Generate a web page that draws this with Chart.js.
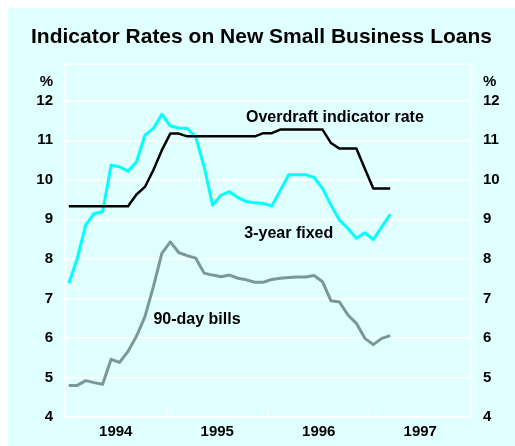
<!DOCTYPE html>
<html>
<head>
<meta charset="utf-8">
<script src="https://cdn.jsdelivr.net/npm/chart.js@4.4.0/dist/chart.umd.min.js"></script>
<style>
  body { margin: 8px 0 0 8px; background: #fff; overflow: hidden; }
  #wrap { width: 507px; height: 438px; background: #e0ffff; }
</style>
</head>
<body>
<div id="wrap"><canvas id="myChart"></canvas></div>
<script>
// monthly, Jan 1994 - Mar 1997
const years = ['1994', '1995', '1996', '1997'];
const yTicks = [4, 5, 6, 7, 8, 9, 10, 11, 12];

const overdraft = [
    9.33, 9.33, 9.33, 9.33, 9.33, 9.33, 9.33, 9.33, 9.63, 9.82, 10.25, 10.75,
    11.17, 11.17, 11.1, 11.1, 11.1, 11.1, 11.1, 11.1, 11.1, 11.1, 11.1, 11.18,
    11.18, 11.27, 11.27, 11.27, 11.27, 11.27, 11.27, 10.93, 10.79, 10.79, 10.79, 10.28,
    9.78, 9.78, 9.78
];
const fixed3yr = [
    7.38, 8.01, 8.86, 9.15, 9.19, 10.37, 10.33, 10.22, 10.45, 11.13, 11.3, 11.66,
    11.36, 11.31, 11.3, 11.09, 10.33, 9.36, 9.61, 9.7, 9.55, 9.45, 9.42, 9.4,
    9.34, 9.73, 10.13, 10.13, 10.13, 10.06, 9.78, 9.36, 8.98, 8.77, 8.52, 8.66,
    8.49, 8.81, 9.13
];
const bills90 = [
    4.8, 4.8, 4.92, 4.87, 4.83, 5.46, 5.38, 5.66, 6.04, 6.54, 7.3, 8.14,
    8.43, 8.16, 8.08, 8.02, 7.64, 7.59, 7.55, 7.59, 7.51, 7.47, 7.41, 7.41,
    7.48, 7.51, 7.53, 7.54, 7.54, 7.58, 7.42, 6.94, 6.91, 6.58, 6.37, 5.99,
    5.83, 5.99, 6.06
];

const toPoints = arr => arr.map((v, i) => ({x: i + 0.45, y: v}));

const FONT = '"Liberation Sans", Arial, sans-serif';

// frame, inner year ticks, % signs and line labels
const decor = {
    id: 'decor',
    beforeDatasetsDraw(chart) {
        const {ctx, chartArea: a, scales: {x, y}} = chart;
        ctx.save();
        ctx.strokeStyle = '#ffffff';
        ctx.lineWidth = 1.5;
        ctx.strokeRect(a.left, a.top, a.right - a.left, a.bottom - a.top);
        for (let m = 12; m < 48; m += 12) {
            const px = x.getPixelForValue(m);
            ctx.beginPath();
            ctx.moveTo(px, a.bottom);
            ctx.lineTo(px, a.bottom - 7);
            ctx.stroke();
        }
        ctx.restore();
    },
    afterDatasetsDraw(chart) {
        const {ctx, chartArea: a, scales: {x, y}} = chart;
        ctx.save();
        ctx.fillStyle = '#000';
        ctx.textBaseline = 'middle';
        ctx.font = 'bold 15px ' + FONT;
        ctx.textAlign = 'right';
        ctx.fillText('%', a.left - 12, a.top + 18);
        ctx.textAlign = 'left';
        ctx.fillText('%', a.right + 12, a.top + 18);
        ctx.font = 'bold 16px ' + FONT;
        ctx.fillText('Overdraft indicator rate', x.getPixelForValue(21.4), y.getPixelForValue(11.57));
        ctx.fillText('3-year fixed', x.getPixelForValue(21.2), y.getPixelForValue(8.63));
        ctx.fillText('90-day bills', x.getPixelForValue(10.45), y.getPixelForValue(6.46));
        ctx.restore();
    }
};

const yCommon = {
    type: 'linear',
    min: 4,
    max: 12.93,
    border: {display: false},
    grid: {drawTicks: false, color: '#ffffff', lineWidth: 1.5},
    afterBuildTicks: s => { s.ticks = yTicks.map(v => ({value: v})); },
    ticks: {
        padding: 12,
        color: '#000',
        font: {family: FONT, size: 15, weight: 'bold'}
    }
};

const config = {
    type: 'line',
    data: {
        datasets: [
            {label: 'Overdraft indicator rate', data: toPoints(overdraft), borderColor: '#000000', borderWidth: 2.5},
            {label: '3-year fixed', data: toPoints(fixed3yr), borderColor: '#00ffff', borderWidth: 3},
            {label: '90-day bills', data: toPoints(bills90), borderColor: '#7a9898', borderWidth: 3}
        ]
    },
    options: {
        responsive: true,
        maintainAspectRatio: false,
        animation: false,
        layout: {padding: 0},
        elements: {point: {radius: 0}, line: {tension: 0, borderJoinStyle: 'round'}},
        plugins: {
            legend: {display: false},
            tooltip: {enabled: false},
            title: {
                display: true,
                text: 'Indicator Rates on New Small Business Loans',
                color: '#000',
                font: {family: FONT, size: 21, weight: 'bold'},
                padding: {top: 17, bottom: 13.8}
            }
        },
        scales: {
            x: {
                type: 'linear',
                min: 0,
                max: 48,
                border: {display: false},
                grid: {display: false, drawTicks: false},
                afterBuildTicks: s => { s.ticks = years.map((yr, k) => ({value: k * 12 + 6})); },
                afterFit: s => { s.height = 29; },
                ticks: {
                    padding: 6,
                    color: '#000',
                    font: {family: FONT, size: 15, weight: 'bold'},
                    callback: v => years[Math.round((v - 6) / 12)]
                }
            },
            y: Object.assign({}, yCommon, {
                position: 'left',
                afterFit: s => { s.width = 57; }
            }),
            y2: Object.assign({}, yCommon, {
                position: 'right',
                grid: {display: false, drawTicks: false},
                afterFit: s => { s.width = 44; }
            })
        }
    },
    plugins: [decor]
};

const myChart = new Chart(document.getElementById('myChart'), config);
</script>
</body>
</html>
